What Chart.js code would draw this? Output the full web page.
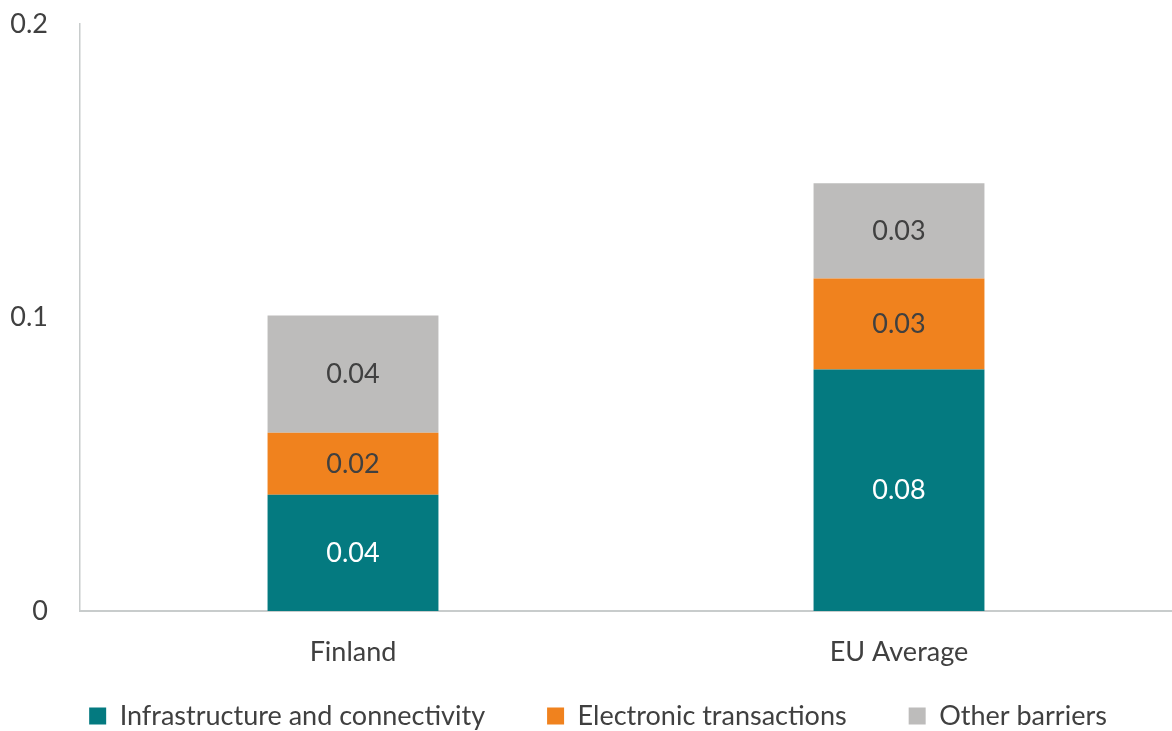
<!DOCTYPE html>
<html>
<head>
<meta charset="utf-8">
<script src="https://cdn.jsdelivr.net/npm/chart.js@4/dist/chart.umd.min.js"></script>
<style>
  html, body { margin: 0; padding: 0; background: #fff; }
  #wrap { width: 1172px; height: 731px; }
</style>
</head>
<body>
<div id="wrap"><canvas id="chart"></canvas></div>
<script>
// Dados
const categories = ['Finland', 'EU Average'];
const seriesNames = ['Infrastructure and connectivity', 'Electronic transactions', 'Other barriers'];
const infrastructure = [0.0396, 0.0823];
const electronic = [0.0211, 0.0310];
const otherBarriers = [0.0400, 0.0324];
const yTicks = [0, 0.1, 0.2];

const colors = ['#047A80', '#F0821E', '#BDBCBB'];
const labelColors = ['#FFFFFF', '#404040', '#404040'];
const fontFamily = 'Lato, "Open Sans", sans-serif';
const textColor = '#404040';

// Plugin simples para escrever os valores dentro das barras
const barValues = {
    id: 'barValues',
    afterDatasetsDraw(chart) {
        const { ctx } = chart;
        ctx.save();
        ctx.font = `27px ${fontFamily}`;
        ctx.textAlign = 'center';
        ctx.textBaseline = 'middle';
        chart.data.datasets.forEach((ds, i) => {
            const meta = chart.getDatasetMeta(i);
            meta.data.forEach((bar, j) => {
                const mid = (bar.y + bar.base) / 2;
                ctx.fillStyle = labelColors[i];
                ctx.fillText(ds.data[j].toFixed(2), bar.x, mid);
            });
        });
        ctx.restore();
    }
};

// A legenda usa muito espaço vertical por causa do padding; sobe ela um pouco
const legendShift = {
    id: 'legendShift',
    afterLayout(chart) {
        if (chart.legend) {
            chart.legend.top -= 53;
            chart.legend.bottom -= 53;
            chart.legend.left += 12;
            chart.legend.right += 12;
        }
    }
};

const seriesData = [infrastructure, electronic, otherBarriers];

new Chart(document.getElementById('chart'), {
    type: 'bar',
    data: {
        labels: categories,
        datasets: seriesNames.map((name, i) => ({
            label: name,
            data: seriesData[i],
            backgroundColor: colors[i],
            borderWidth: 0,
            categoryPercentage: 1,
            barPercentage: 0.313
        }))
    },
    options: {
        responsive: true,
        maintainAspectRatio: false,
        animation: false,
        layout: { padding: { top: 24, right: 0, left: 0, bottom: -61.4 } },
        scales: {
            x: {
                stacked: true,
                grid: { display: false, drawTicks: false },
                border: { display: true, color: '#C8CCCC', width: 2 },
                ticks: { color: textColor, font: { family: fontFamily, size: 27 }, padding: 25 }
            },
            y: {
                stacked: true,
                min: 0,
                max: 0.2,
                afterBuildTicks(axis) { axis.ticks = yTicks.map(v => ({ value: v })); },
                afterFit(axis) {
                    axis.width = 80;
                    axis.paddingTop = 0;
                    axis.paddingBottom = 0;
                },
                grid: { display: false, drawTicks: false },
                border: { display: true, color: '#C8CCCC', width: 1.5 },
                ticks: {
                    color: textColor,
                    font: { family: fontFamily, size: 27 },
                    padding: 32,
                    callback: v => String(v)
                }
            }
        },
        plugins: {
            legend: {
                position: 'bottom',
                labels: {
                    color: textColor,
                    font: { family: fontFamily, size: 27 },
                    boxWidth: 17,
                    boxHeight: 17,
                    padding: 62
                }
            },
            tooltip: { enabled: false }
        }
    },
    plugins: [barValues, legendShift]
});
</script>
</body>
</html>
